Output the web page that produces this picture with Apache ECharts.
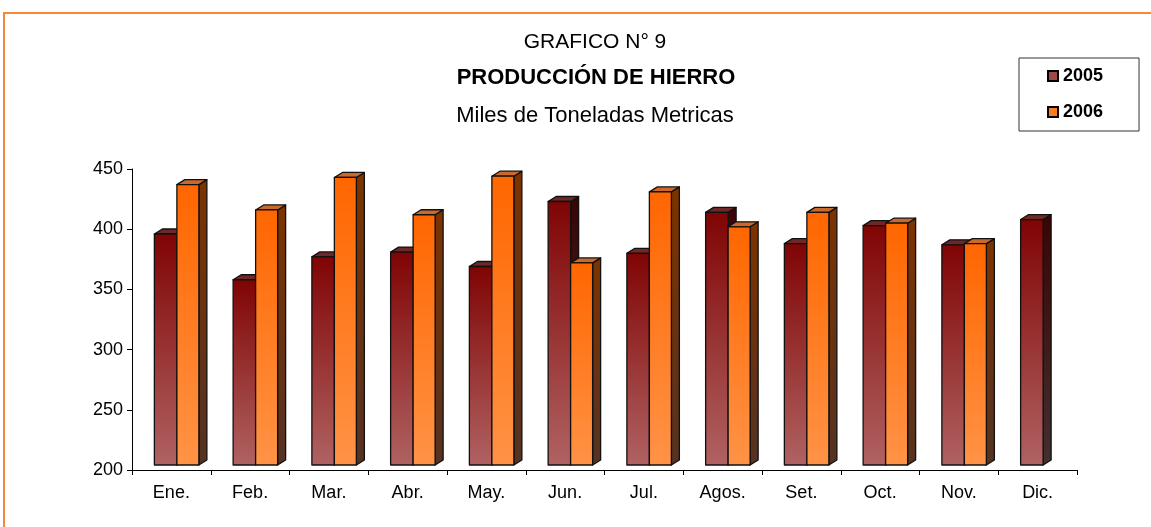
<!DOCTYPE html>
<html>
<head>
<meta charset="utf-8">
<script src="https://cdn.jsdelivr.net/npm/echarts@6/dist/echarts.min.js"></script>
<style>
  html, body { margin: 0; padding: 0; background: #fff; }
  #chart { width: 1151px; height: 527px; }
</style>
</head>
<body>
<div id="chart"></div>
<script>
var categories = ['Ene.', 'Feb.', 'Mar.', 'Abr.', 'May.', 'Jun.', 'Jul.', 'Agos.', 'Set.', 'Oct.', 'Nov.', 'Dic.'];
var prod2005 = [396, 358, 377, 381, 369, 423, 380, 414, 388, 403, 387, 408];
var prod2006 = [437, 416, 443, 412, 444, 372, 431, 402, 414, 405, 388, null];
var yTicks = [200, 250, 300, 350, 400, 450];

var FONT = '"Liberation Sans", Arial, sans-serif';

// colores de cada cara: frente (arriba/abajo), tapa, lateral (arriba/abajo)
var faces = {
  '2005': { front: ['#800404', '#b06262'], top: '#6e2828', side: ['#3a0404', '#43302f'] },
  '2006': { front: ['#ff6600', '#ff9346'], top: '#c9692c', side: ['#7c3300', '#553222'] }
};

function grad(c) {
  return new echarts.graphic.LinearGradient(0, 0, 0, 1, [
    { offset: 0, color: c[0] }, { offset: 1, color: c[1] }
  ]);
}

// barra "3D" estilo Excel
function bar3d(name, left, right) {
  var f = faces[name];
  var dx = 8, dy = 5;
  return function (params, api) {
    var v = api.value(1);
    if (v == null || isNaN(v)) return;
    var i = api.value(0);
    var pt = api.coord([i, v]);
    var base = api.coord([i, yTicks[0]]);
    var cx = pt[0];
    var x0 = cx + left, x1 = cx + right;
    var yt = pt[1], yb = base[1] - 5;
    var stroke = { stroke: '#111', lineWidth: 1.3, lineJoin: 'round' };
    return {
      type: 'group',
      children: [
        {
          type: 'polygon',
          shape: { points: [[x1, yt], [x1 + dx, yt - dy], [x1 + dx, yb - dy], [x1, yb]] },
          style: Object.assign({ fill: grad(f.side) }, stroke)
        },
        {
          type: 'polygon',
          shape: { points: [[x0, yt], [x0 + dx, yt - dy], [x1 + dx, yt - dy], [x1, yt]] },
          style: Object.assign({ fill: f.top }, stroke)
        },
        {
          type: 'rect',
          shape: { x: x0, y: yt, width: x1 - x0, height: yb - yt },
          style: Object.assign({ fill: grad(f.front) }, stroke)
        }
      ]
    };
  };
}

function toData(arr) {
  return arr.map(function (v, i) { return [i, v]; }).filter(function (d) { return d[1] != null; });
}

var chart = echarts.init(document.getElementById('chart'));

var option = {
  animation: false,
  backgroundColor: '#fff',
  title: [
    { text: 'GRAFICO N° 9', left: 590, top: 27, textAlign: 'center',
      textStyle: { fontFamily: FONT, fontSize: 21, fontWeight: 'normal', color: '#000' } },
    { text: 'PRODUCCIÓN DE HIERRO', left: 591, top: 62, textAlign: 'center',
      textStyle: { fontFamily: FONT, fontSize: 22, fontWeight: 'bold', color: '#000' } },
    { text: 'Miles de Toneladas Metricas', left: 590, top: 100, textAlign: 'center',
      textStyle: { fontFamily: FONT, fontSize: 22, fontWeight: 'normal', color: '#000' } }
  ],
  legend: {
    orient: 'vertical',
    left: 1019,
    top: 58,
    padding: [9, 36, 10, 28],
    itemGap: 18,
    itemWidth: 10,
    itemHeight: 10,
    icon: 'rect',
    borderColor: '#333',
    borderWidth: 1,
    textStyle: { fontFamily: FONT, fontSize: 18, fontWeight: 'bold', color: '#000' },
    data: ['2005', '2006']
  },
  graphic: [
    {
      type: 'polyline',
      shape: { points: [[4, 527], [4, 13], [1151, 13]] },
      style: { stroke: '#f5893a', lineWidth: 2, fill: null }
    }
  ],
  grid: { left: 132, right: 74, top: 169, bottom: 57 },
  xAxis: {
    type: 'category',
    data: categories,
    boundaryGap: true,
    axisLine: { lineStyle: { color: '#000', width: 1 } },
    axisTick: { show: true, length: 5, lineStyle: { color: '#000' } },
    axisLabel: { margin: 14, fontFamily: FONT, fontSize: 18, color: '#000' }
  },
  yAxis: {
    type: 'value',
    min: 200,
    max: 450,
    interval: 50,
    splitLine: { show: false },
    axisLine: { show: true, lineStyle: { color: '#000', width: 1 } },
    axisTick: { show: true, length: 5, lineStyle: { color: '#000' } },
    axisLabel: { margin: 9, fontFamily: FONT, fontSize: 18, color: '#000' }
  },
  series: [
    {
      name: '2005',
      type: 'custom',
      renderItem: bar3d('2005', -17, 5.5),
      itemStyle: { color: '#a04848', borderColor: '#000', borderWidth: 1 },
      encode: { x: 0, y: 1 },
      data: toData(prod2005)
    },
    {
      name: '2006',
      type: 'custom',
      renderItem: bar3d('2006', 5.5, 27.5),
      itemStyle: { color: '#ff7a1e', borderColor: '#000', borderWidth: 1 },
      encode: { x: 0, y: 1 },
      data: toData(prod2006)
    }
  ]
};

chart.setOption(option);
</script>
</body>
</html>
